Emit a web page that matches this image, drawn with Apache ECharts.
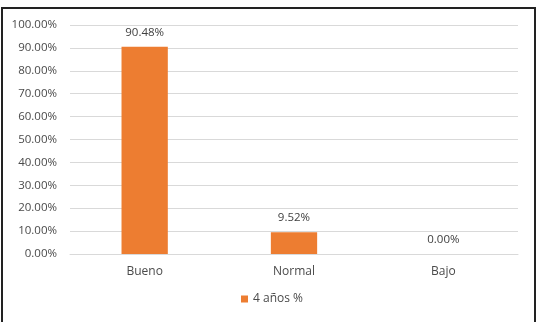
<!DOCTYPE html>
<html><head><meta charset="utf-8">
<script src="https://cdn.jsdelivr.net/npm/echarts@6/dist/echarts.min.js"></script>
<style>
html,body{margin:0;padding:0;background:#fff;}
#frame{position:absolute;left:1px;top:7px;width:535px;height:320px;border:2px solid #222;box-sizing:border-box;}
#c{position:absolute;left:0;top:0;width:543px;height:322px;}
</style></head>
<body>
<div id="frame"></div>
<div id="c"></div>
<script>
const categories = ["Bueno", "Normal", "Bajo"];
const values = [90.48, 9.52, 0.00];
const seriesName = "4 años %";
const yMin = 0, yMax = 100, yStep = 10;

const chart = echarts.init(document.getElementById('c'));
const font = "'Open Sans', 'Liberation Sans', sans-serif";
chart.setOption({
  animation: false,
  grid: {left: 70, right: 25, top: 25, bottom: 68, containLabel: false},
  xAxis: {
    type: 'category', data: categories,
    axisLine: {lineStyle: {color: '#d9d9d9'}}, axisTick: {show: false},
    axisLabel: {color: '#4a4a4a', fontFamily: font, fontSize: 12, margin: 12}
  },
  yAxis: {
    type: 'value', min: yMin, max: yMax, interval: yStep,
    axisLine: {show: false}, axisTick: {show: false},
    splitLine: {lineStyle: {color: '#d9d9d9', width: 1}},
    axisLabel: {color: '#4a4a4a', fontFamily: font, fontSize: 11.5, margin: 13,
      formatter: v => v.toFixed(2) + '%'}
  },
  legend: {
    data: [seriesName], bottom: 12, left: 236, itemWidth: 7, itemHeight: 7, itemGap: 4,
    icon: 'rect', textStyle: {color: '#4a4a4a', fontFamily: font, fontSize: 12}
  },
  series: [{
    name: seriesName, type: 'bar', data: values, barWidth: '31%',
    itemStyle: {color: '#ED7D31'},
    label: {show: true, position: 'top', distance: 8, color: '#404040', fontFamily: font, fontSize: 11.5,
      formatter: p => p.value.toFixed(2) + '%'}
  }]
});
</script>
</body></html>
